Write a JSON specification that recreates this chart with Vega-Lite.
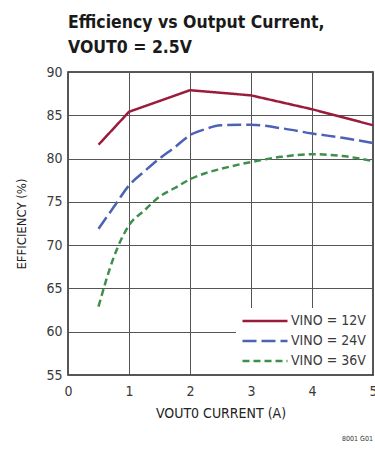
{
  "$schema": "https://vega.github.io/schema/vega-lite/v6.json",
  "width": 305,
  "height": 303,
  "autosize": {"type": "none"},
  "padding": {"left": 68, "top": 72, "right": 2, "bottom": 76},
  "background": "white",
  "title": {
    "text": ["Efficiency vs Output Current,", "VOUT0 = 2.5V"],
    "anchor": "start",
    "frame": "group",
    "font": "Noto Sans ExtraCondensed, Noto Sans Condensed, DejaVu Sans Condensed, sans-serif",
    "fontSize": 17.5,
    "fontWeight": "bold",
    "color": "#1a1a1a",
    "lineHeight": 25,
    "offset": 9
  },
  "config": {
    "view": {"stroke": "#222", "strokeWidth": 1.5},
    "font": "Noto Sans ExtraCondensed, Noto Sans Condensed, DejaVu Sans Condensed, sans-serif"
  },
  "datasets": {
    "red": [
      {"current": 0.5, "eff": 81.6, "series": "VINO = 12V"},
      {"current": 1, "eff": 85.4, "series": "VINO = 12V"},
      {"current": 2, "eff": 87.9, "series": "VINO = 12V"},
      {"current": 3, "eff": 87.3, "series": "VINO = 12V"},
      {"current": 4, "eff": 85.7, "series": "VINO = 12V"},
      {"current": 5, "eff": 83.85, "series": "VINO = 12V"}
    ],
    "others": [
      {"current": 0.5, "eff": 71.9, "series": "VINO = 24V"},
      {"current": 0.75, "eff": 74.4, "series": "VINO = 24V"},
      {"current": 1, "eff": 76.9, "series": "VINO = 24V"},
      {"current": 1.25, "eff": 78.5, "series": "VINO = 24V"},
      {"current": 1.5, "eff": 80.0, "series": "VINO = 24V"},
      {"current": 1.75, "eff": 81.3, "series": "VINO = 24V"},
      {"current": 2, "eff": 82.7, "series": "VINO = 24V"},
      {"current": 2.25, "eff": 83.4, "series": "VINO = 24V"},
      {"current": 2.5, "eff": 83.85, "series": "VINO = 24V"},
      {"current": 3, "eff": 83.9, "series": "VINO = 24V"},
      {"current": 3.5, "eff": 83.5, "series": "VINO = 24V"},
      {"current": 4, "eff": 82.9, "series": "VINO = 24V"},
      {"current": 4.5, "eff": 82.4, "series": "VINO = 24V"},
      {"current": 5, "eff": 81.8, "series": "VINO = 24V"},
      {"current": 0.5, "eff": 62.9, "series": "VINO = 36V"},
      {"current": 0.75, "eff": 68.6, "series": "VINO = 36V"},
      {"current": 1, "eff": 72.3, "series": "VINO = 36V"},
      {"current": 1.25, "eff": 74.0, "series": "VINO = 36V"},
      {"current": 1.5, "eff": 75.6, "series": "VINO = 36V"},
      {"current": 1.75, "eff": 76.6, "series": "VINO = 36V"},
      {"current": 2, "eff": 77.6, "series": "VINO = 36V"},
      {"current": 2.25, "eff": 78.3, "series": "VINO = 36V"},
      {"current": 2.5, "eff": 78.8, "series": "VINO = 36V"},
      {"current": 3, "eff": 79.6, "series": "VINO = 36V"},
      {"current": 3.5, "eff": 80.2, "series": "VINO = 36V"},
      {"current": 4, "eff": 80.5, "series": "VINO = 36V"},
      {"current": 4.5, "eff": 80.3, "series": "VINO = 36V"},
      {"current": 5, "eff": 79.7, "series": "VINO = 36V"}
    ],
    "note": [{"text": "8001 G01"}]
  },
  "layer": [
    {
      "data": {"name": "red"},
      "mark": {"type": "line", "strokeWidth": 2.5, "interpolate": "linear"},
      "encoding": {
        "x": {
          "field": "current",
          "type": "quantitative",
          "scale": {"domain": [0, 5], "nice": false},
          "axis": {
            "title": "VOUT0 CURRENT (A)",
            "values": [0, 1, 2, 3, 4, 5],
            "format": "d",
            "grid": true,
            "gridColor": "#555",
            "gridWidth": 1,
            "gridOpacity": 1,
            "domain": false,
            "ticks": false,
            "labelPadding": 9,
            "labelFontSize": 14,
            "labelColor": "#3a3a3a",
            "labelFlush": false,
            "titleFontSize": 14,
            "titleFontWeight": "normal",
            "titleColor": "#222",
            "titlePadding": 8
          }
        },
        "y": {
          "field": "eff",
          "type": "quantitative",
          "scale": {"domain": [55, 90], "nice": false, "zero": false},
          "axis": {
            "title": "EFFICIENCY (%)",
            "values": [55, 60, 65, 70, 75, 80, 85, 90],
            "grid": true,
            "gridColor": "#555",
            "gridWidth": 1,
            "gridOpacity": 1,
            "domain": false,
            "ticks": false,
            "labelPadding": 6,
            "labelFontSize": 14,
            "labelColor": "#3a3a3a",
            "titleFontSize": 13,
            "titleFontWeight": "normal",
            "titleColor": "#222",
            "titlePadding": 17
          }
        },
        "color": {
          "field": "series",
          "type": "nominal",
          "scale": {
            "domain": ["VINO = 12V", "VINO = 24V", "VINO = 36V"],
            "range": ["#9a1b3a", "#4b62b5", "#3f8f4c"]
          },
          "legend": {
            "title": null,
            "orient": "bottom-right",
            "offset": 1,
            "fillColor": "white",
            "padding": 6,
            "symbolType": "M-4.5,0H4.5",
            "symbolSize": 100,
            "symbolStrokeWidth": 2.5,
            "symbolOffset": 16,
            "labelFontSize": 14,
            "labelColor": "#3a3a3a",
            "labelOffset": 19,
            "rowPadding": 6
          }
        },
        "strokeDash": {
          "field": "series",
          "type": "nominal",
          "scale": {
            "domain": ["VINO = 12V", "VINO = 24V", "VINO = 36V"],
            "range": [[1, 0], [14, 5], [7, 4]]
          },
          "legend": {"title": null}
        }
      }
    },
    {
      "data": {"name": "others"},
      "mark": {"type": "line", "strokeWidth": 2.5, "interpolate": "monotone"},
      "encoding": {
        "x": {"field": "current", "type": "quantitative"},
        "y": {"field": "eff", "type": "quantitative"},
        "color": {"field": "series", "type": "nominal"},
        "strokeDash": {"field": "series", "type": "nominal"}
      }
    },
    {
      "data": {"name": "note"},
      "mark": {"type": "text", "align": "right", "baseline": "middle", "fontSize": 7, "dy": 64},
      "encoding": {
        "x": {"datum": 5, "type": "quantitative"},
        "y": {"datum": 55, "type": "quantitative"},
        "text": {"field": "text"},
        "color": {"value": "#333"}
      }
    }
  ]
}
